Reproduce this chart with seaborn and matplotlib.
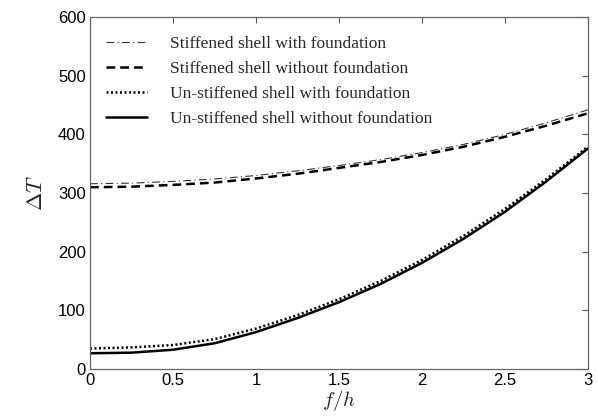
import matplotlib
matplotlib.use("Agg")
import matplotlib.pyplot as plt
import seaborn as sns
import pandas as pd

# Data
f_h = [0, 0.25, 0.5, 0.75, 1, 1.25, 1.5, 1.75, 2, 2.25, 2.5, 2.75, 3]
stiff_with = [316, 317, 320, 324, 330, 338, 347, 357, 369, 383, 400, 420, 442]
stiff_without = [310, 311, 314, 318, 325, 333, 343, 353, 365, 379, 396, 415, 436]
unstiff_with = [35, 37, 41, 51, 69, 92, 119, 150, 186, 227, 273, 324, 379]
unstiff_without = [27, 28, 33, 44, 63, 87, 114, 145, 181, 222, 268, 320, 376]
labels = ["Stiffened shell with foundation",
          "Stiffened shell without foundation",
          "Un-stiffened shell with foundation",
          "Un-stiffened shell without foundation"]

sns.set_theme(style="white")
plt.rcParams['mathtext.fontset'] = 'cm'
plt.rcParams['font.family'] = ['Liberation Sans', 'DejaVu Sans']

fig = plt.figure(figsize=(5.98, 4.18), dpi=100)
ax = fig.add_axes([0.1505, 0.117, 0.8325, 0.842])

series = [stiff_with, stiff_without, unstiff_with, unstiff_without]
styles = [dict(lw=0.8, dashes=(7, 3, 1, 3), color='#333333'),
          dict(lw=1.8, dashes=(3.5, 2)),
          dict(lw=1.8, dashes=(0.8, 1.0)),
          dict(lw=1.8)]

for vals, lab, st in zip(series, labels, styles):
    df = pd.DataFrame({'f/h': f_h, 'dT': vals})
    kw = dict(st)
    color = kw.pop('color', 'black')
    sns.lineplot(data=df, x='f/h', y='dT', ax=ax, color=color, label=lab, **kw)

ax.set_xlim(0, 3)
ax.set_ylim(0, 600)
ax.set_xticks([0, 0.5, 1, 1.5, 2, 2.5, 3])
ax.set_xticklabels(['0', '0.5', '1', '1.5', '2', '2.5', '3'])
ax.set_yticks(range(0, 601, 100))
ax.tick_params(direction='in', length=4, width=0.8, color='#555555',
               labelsize=12, top=True, right=True, pad=3, labelcolor='black')
for sp in ax.spines.values():
    sp.set_color('#666666')
    sp.set_linewidth(0.9)

ax.set_xlabel(r'$f/h$', fontsize=15, labelpad=0)
ax.set_ylabel(r'$\mathit{\Delta T}$', fontsize=16, labelpad=8)

leg = ax.legend(loc='upper left', frameon=False, handlelength=2.4, handletextpad=1.3,
                labelspacing=0.5, bbox_to_anchor=(0.0, 0.99),
                prop={'family': 'Liberation Serif', 'size': 12.5})

fig.savefig('out.png', dpi=100)
